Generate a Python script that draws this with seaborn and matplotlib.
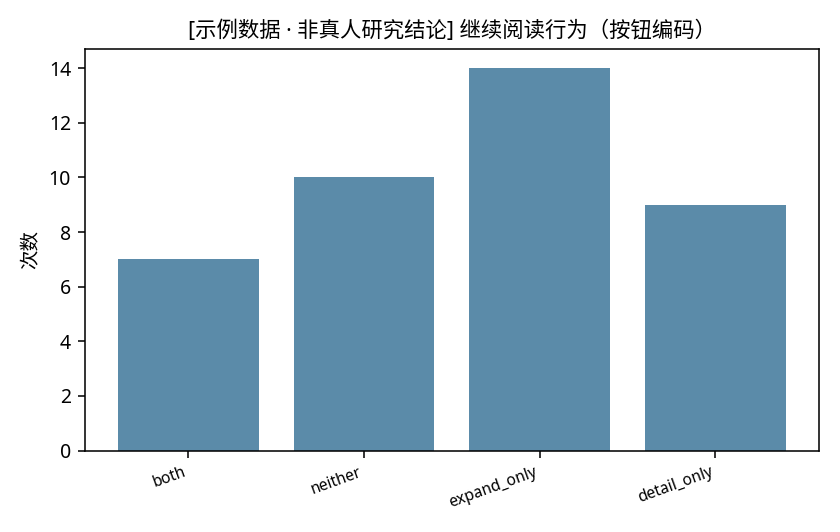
import matplotlib
matplotlib.use("Agg")
import matplotlib.pyplot as plt
import seaborn as sns

categories = ["both", "neither", "expand_only", "detail_only"]
counts = [7, 10, 14, 9]

plt.rcParams['font.family'] = ['Noto Sans', 'Noto Sans CJK SC', 'DejaVu Sans']

fig, ax = plt.subplots(figsize=(6, 3.8), dpi=140)
sns.barplot(x=categories, y=counts, color="#5b8ba9", saturation=1, width=0.8, ax=ax)
ax.set_xlim(-0.59, 3.59)
ax.set_title("[示例数据 · 非真人研究结论] 继续阅读行为（按钮编码）", fontsize=11)
ax.set_ylabel("次数", fontsize=10)
ax.set_xlabel("")
plt.setp(ax.get_xticklabels(), rotation=20, ha="right", fontsize=8)
fig.tight_layout()
fig.savefig("out.png", dpi=140)
